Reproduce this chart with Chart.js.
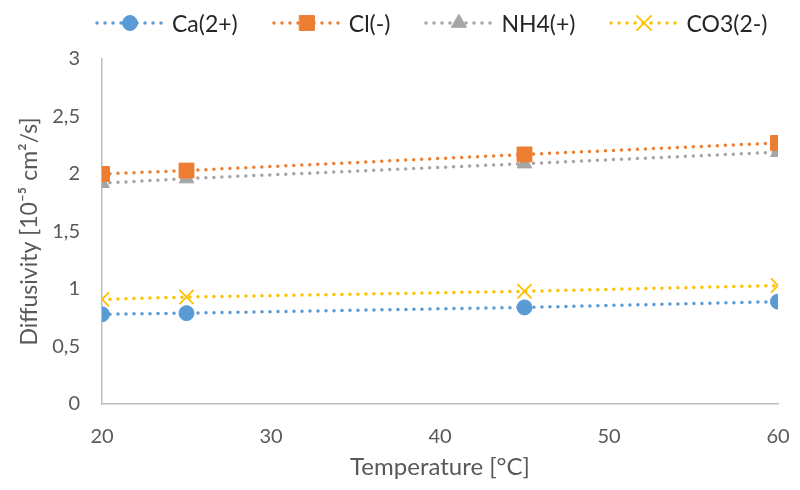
<!DOCTYPE html>
<html>
<head>
<meta charset="utf-8">
<script src="https://cdn.jsdelivr.net/npm/chart.js@4"></script>
<style>
  html, body { margin: 0; padding: 0; background: #fff; }
  #wrap { position: relative; width: 800px; height: 490px; }
  #legend {
    position: absolute; left: 95px; top: 11px;
    display: flex; align-items: center;
    font-family: Lato, "Open Sans", sans-serif; font-size: 23px; line-height: 24px;
    color: #262626;
  }
  #legend .item { display: flex; align-items: center; margin-right: 34px; }
  #legend canvas { display: block; margin-right: 7px; }
</style>
</head>
<body>
<div id="wrap">
  <canvas id="diffChart" width="800" height="490"></canvas>
  <div id="legend"></div>
</div>
<script>
// temperatures [°C] and diffusivities [1e-5 cm2/s]
const temps = [20, 25, 45, 60];
const ca = [0.78, 0.79, 0.84, 0.89];
const cl = [2.00, 2.03, 2.17, 2.27];
const nh4 = [1.92, 1.96, 2.09, 2.19];
const co3 = [0.91, 0.93, 0.98, 1.03];

const seriesNames = ["Ca(2+)", "Cl(-)", "NH4(+)", "CO3(2-)"];
const yTicks = [0, 0.5, 1, 1.5, 2, 2.5, 3];
const xTicks = [20, 30, 40, 50, 60];

const FONT = "Lato, 'Open Sans', sans-serif";
const GREY = "#595959";

function toPoints(ys) {
    return temps.map((t, i) => ({ x: t, y: ys[i] }));
}

function series(label, ys, color, style, radius, pbw) {
    return {
        label: label,
        data: toPoints(ys),
        borderColor: color,
        backgroundColor: color,
        borderWidth: 3.5,
        borderDash: [0, 8],
        borderCapStyle: "round",
        pointStyle: style,
        pointRadius: radius,
        pointHoverRadius: radius,
        pointBorderWidth: pbw,
        pointBackgroundColor: color,
        pointBorderColor: color,
        fill: false,
        tension: 0
    };
}

const datasets = [
    series(seriesNames[0], ca, "#5B9BD5", "circle", 7.5, 1),
    series(seriesNames[1], cl, "#ED7D31", "rect", 10.5, 1),
    series(seriesNames[2], nh4, "#A5A5A5", "triangle", 8.5, 1),
    series(seriesNames[3], co3, "#FFC000", "crossRot", 10, 1.8)
];

// legend: dotted line with the marker in the middle, then the name
function buildLegend() {
    const box = document.getElementById("legend");
    datasets.forEach(ds => {
        const item = document.createElement("div");
        item.className = "item";
        const c = document.createElement("canvas");
        c.width = 70;
        c.height = 24;
        const g = c.getContext("2d");
        g.strokeStyle = ds.borderColor;
        g.lineWidth = 3.5;
        g.lineCap = "round";
        g.setLineDash([0, 8]);
        g.beginPath();
        g.moveTo(2, 12);
        g.lineTo(69, 12);
        g.stroke();
        g.setLineDash([]);
        g.fillStyle = ds.pointBackgroundColor;
        g.strokeStyle = ds.pointBorderColor;
        g.lineWidth = ds.pointBorderWidth;
        Chart.helpers.drawPoint(g, {
            pointStyle: ds.pointStyle,
            radius: ds.pointRadius,
            borderWidth: ds.pointBorderWidth,
            rotation: 0
        }, 35, 12);
        const span = document.createElement("span");
        span.textContent = ds.label;
        item.appendChild(c);
        item.appendChild(span);
        box.appendChild(item);
    });
}

const ctx = document.getElementById("diffChart").getContext("2d");

new Chart(ctx, {
    type: "line",
    data: { datasets: datasets },
    options: {
        responsive: false,
        animation: false,
        layout: { padding: { top: 59, right: 22, bottom: 0, left: 0 } },
        plugins: {
            tooltip: { enabled: false },
            legend: { display: false }
        },
        scales: {
            x: {
                type: "linear",
                min: 20,
                max: 60,
                afterBuildTicks: s => { s.ticks = xTicks.map(v => ({ value: v })); },
                afterFit: s => {
                    s.height = 86;
                    s.paddingRight = 12;
                },
                grid: { display: false, drawTicks: false },
                border: { display: true, color: "#BFBFBF", width: 1.5 },
                ticks: {
                    color: GREY,
                    padding: 21,
                    font: { family: FONT, size: 20 },
                    maxRotation: 0
                },
                title: {
                    display: true,
                    text: "Temperature [°C]",
                    color: GREY,
                    font: { family: FONT, size: 24 },
                    padding: { top: 0, bottom: 8 }
                }
            },
            y: {
                min: 0,
                max: 3,
                afterBuildTicks: s => { s.ticks = yTicks.map(v => ({ value: v })); },
                afterFit: s => { s.width = 102; },
                grid: { display: false, drawTicks: false },
                border: { display: true, color: "#BFBFBF", width: 1.5 },
                ticks: {
                    color: GREY,
                    padding: 22,
                    font: { family: FONT, size: 20 },
                    callback: v => String(v).replace(".", ",")
                },
                title: {
                    display: true,
                    text: "Diffusivity [10⁻⁵ cm²/s]",
                    color: GREY,
                    font: { family: FONT, size: 23 },
                    padding: { top: 16, bottom: 0 }
                }
            }
        }
    }
});

buildLegend();
</script>
</body>
</html>
